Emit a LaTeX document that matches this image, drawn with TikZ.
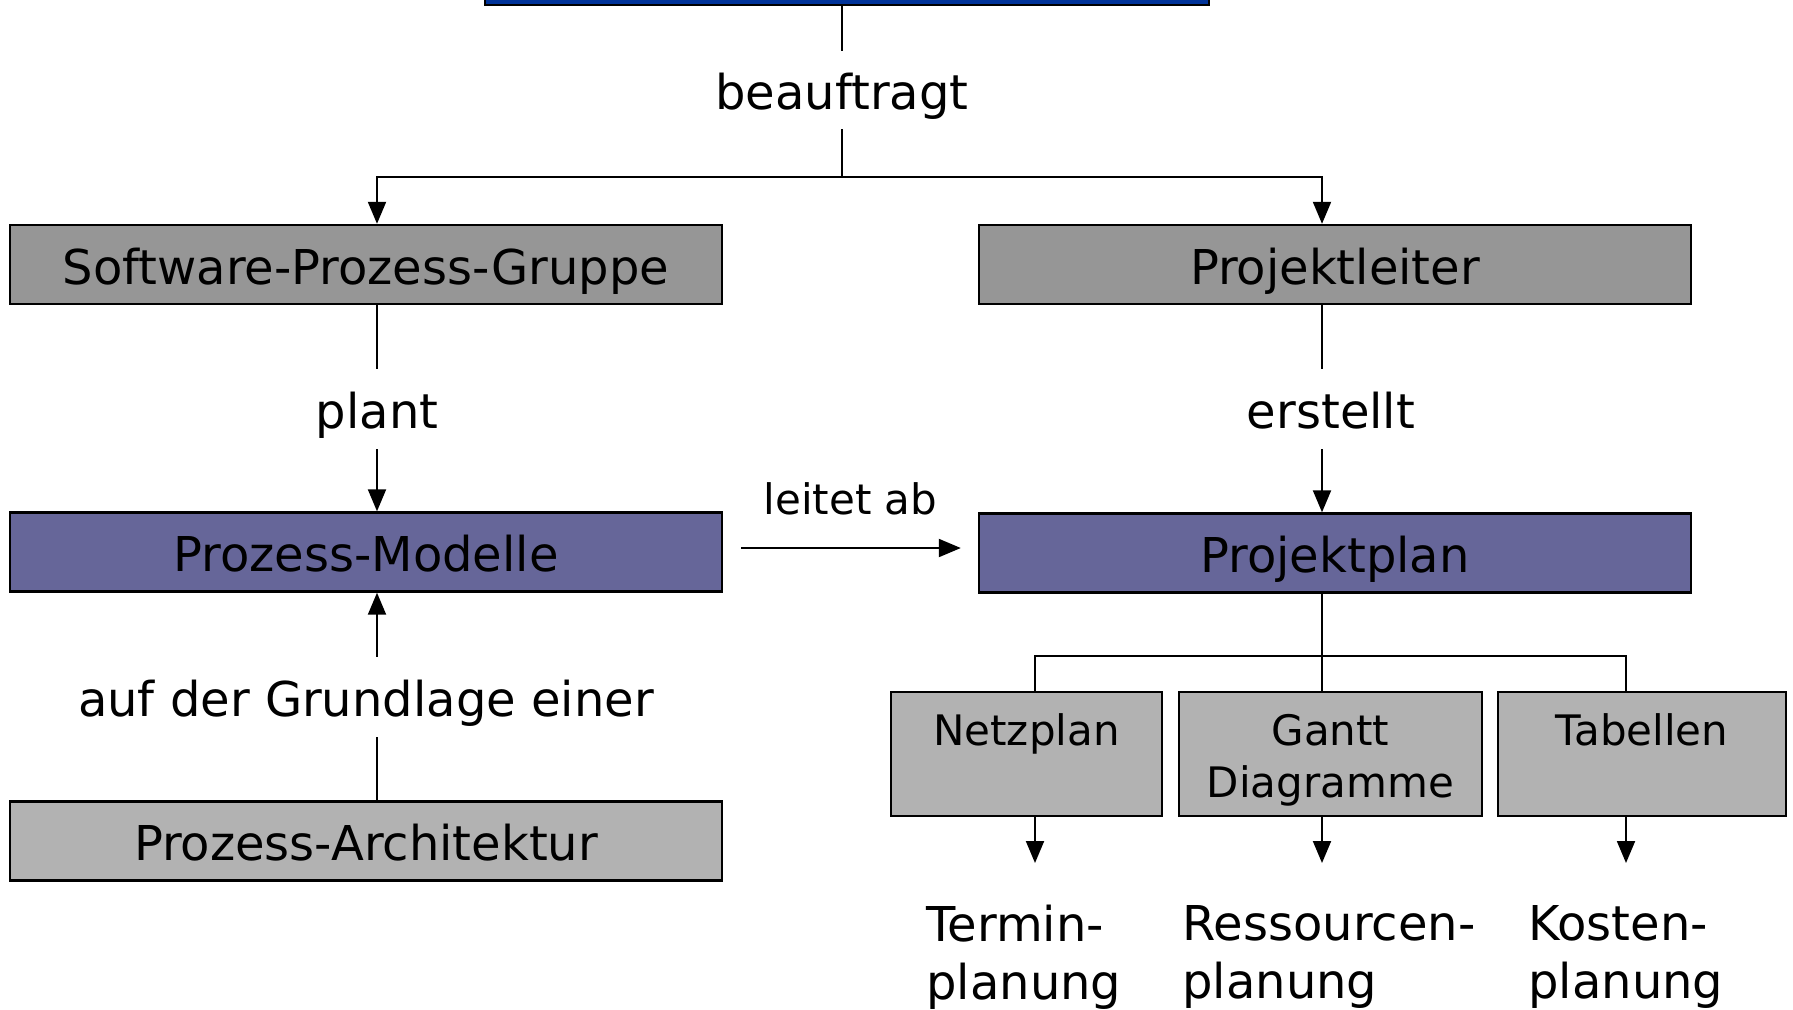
\documentclass[tikz,border=0pt]{standalone}
\usepackage{fontspec}
\setmainfont{DejaVu Sans}
\usetikzlibrary{arrows.meta}
\definecolor{topblue}{HTML}{003399}
\definecolor{boxdark}{HTML}{969696}
\definecolor{boxpurple}{HTML}{666699}
\definecolor{boxlight}{HTML}{B2B2B2}
\newcommand{\toprule}{\rule{0pt}{22pt}}
\begin{document}
\begin{tikzpicture}[
    x=0.5pt, y=-0.5pt,
    bigbox/.style={
        draw=black,
        line width=1.2pt,
        minimum width=356pt,
        minimum height=39.5pt,
        inner sep=0pt,
        text height=23pt,
        text depth=3.4pt,
        font=\fontsize{24}{29}\selectfont
    },
    smallbox/.style={
        draw=black,
        line width=1.2pt,
        fill=boxlight,
        minimum height=62pt,
        inner sep=0pt,
        align=center,
        font=\fontsize{21}{26}\selectfont
    },
    relation/.style={
        inner sep=0pt,
        font=\fontsize{24}{29}\selectfont
    },
    oneline/.style={
        text height=23pt,
        text depth=3.4pt
    },
    conn/.style={line width=1pt},
    arr/.style={line width=1pt, -{Triangle[length=11pt, width=9pt]}}
]
    \useasboundingbox (0, 0) rectangle (1793, 1009);
    \node[draw=black, line width=1.2pt, fill=topblue, minimum width=362pt, minimum height=30pt] (auftraggeber) at (847, -25) {};
    \node[relation, oneline, minimum height=39pt] (beauftragt) at (842, 90) {beauftragt};
    \node[bigbox, fill=boxdark] (spg) at (366, 264.5) {Software-Prozess-Gruppe};
    \node[bigbox, fill=boxdark] (pl) at (1335, 264.5) {Projektleiter};
    \node[relation, oneline, minimum height=40pt] (plant) at (377, 409) {plant};
    \node[relation, oneline, minimum height=40pt] (erstellt) at (1331, 409) {erstellt};
    \node[bigbox, fill=boxpurple] (pm) at (366, 552) {Prozess-Modelle};
    \node[bigbox, fill=boxpurple] (pp) at (1335, 553) {Projektplan};
    \node[relation, oneline, minimum height=40pt] (grundlage) at (366, 697) {auf der Grundlage einer};
    \node[bigbox, fill=boxlight] (pa) at (366, 841) {Prozess-Architektur};
    \node[smallbox, minimum width=135.5pt] (netz) at (1026.5, 754) {\toprule Netzplan\\\vphantom{g}};
    \node[smallbox, minimum width=151.5pt] (gantt) at (1330.5, 754) {\toprule Gantt\\Diagramme};
    \node[smallbox, minimum width=144pt] (tab) at (1642, 754) {\toprule Tabellen\\\vphantom{g}};
    \node[relation, align=left, anchor=north west] (termin) at (926, 905) {Termin-\\planung};
    \node[relation, align=left, anchor=north west] (ressourcen) at (1182, 905) {Ressourcen-\\planung};
    \node[relation, align=left, anchor=north west] (kosten) at (1528, 905) {Kosten-\\planung};
    \coordinate (lx) at (377, 0);
    \coordinate (rx) at (1322, 0);
    \coordinate (nx) at (1035, 0);
    \coordinate (tx) at (1626, 0);
    \coordinate (oben) at (842, 177);
    \coordinate (unten) at (1322, 656);
    \draw[conn] (auftraggeber.south -| beauftragt) -- (beauftragt.north);
    \draw[conn] (beauftragt.south) -- (oben);
    \draw[arr] (oben) -| (spg.north -| lx);
    \draw[arr] (oben) -| (pl.north -| rx);
    \draw[conn] (spg.south -| lx) -- (plant.north -| lx);
    \draw[arr] (plant.south -| lx) -- (pm.north -| lx);
    \draw[conn] (pl.south -| rx) -- (erstellt.north -| rx);
    \draw[arr] (erstellt.south -| rx) -- (pp.north -| rx);
    \draw[arr, transform canvas={yshift=2pt}, shorten <=9pt, shorten >=8.5pt] (pm.east) -- (pm.east -| pp.west)
        node[pos=0.5, yshift=24.5pt, font=\fontsize{21}{26}\selectfont] (leitet) {leitet ab};
    \draw[conn] (pa.north -| lx) -- (grundlage.south -| lx);
    \draw[arr] (grundlage.north -| lx) -- (pm.south -| lx);
    \draw[conn] (pp.south -| rx) -- (gantt.north -| rx);
    \draw[conn] (netz.north -| nx) |- (unten) -| (tab.north -| tx);
    \draw[arr, shorten >=21pt] (netz.south -| nx) -- (termin.north -| nx);
    \draw[arr, shorten >=21pt] (gantt.south -| rx) -- (ressourcen.north -| rx);
    \draw[arr, shorten >=21pt] (tab.south -| tx) -- (kosten.north -| tx);
\end{tikzpicture}
\end{document}
